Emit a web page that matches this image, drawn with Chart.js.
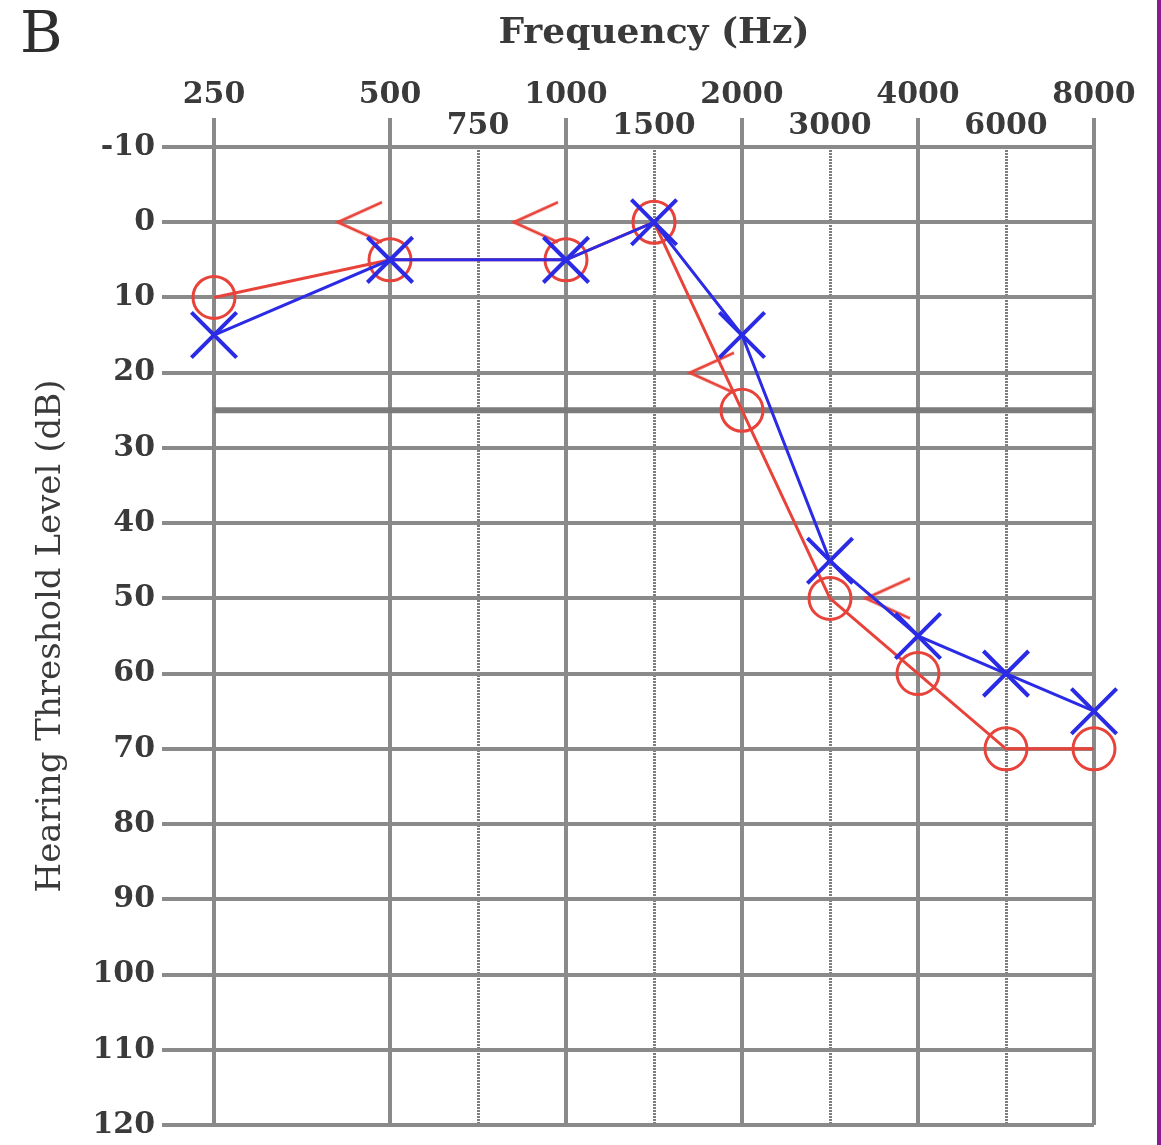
<!DOCTYPE html>
<html>
<head>
<meta charset="utf-8">
<title>Audiograma B</title>
<script src="https://cdn.jsdelivr.net/npm/chart.js@4.4.0/dist/chart.umd.min.js"></script>
<style>
    body { margin: 0; background: #ffffff; }
    #contenedor { position: relative; width: 1161px; height: 1145px; overflow: hidden; }
    #audiograma { display: block; }
    #letra { position: absolute; left: 20px; top: 3px; font-family: 'DejaVu Serif'; font-size: 58px; line-height: 58px; color: #2e2e2e; }
    #borde { position: absolute; right: 0; top: 0; width: 4px; height: 1145px; background: #8b1c8e; }
</style>
</head>
<body>
<div id="contenedor">
    <canvas id="audiograma" width="1161" height="1145"></canvas>
    <div id="letra">B</div>
    <div id="borde"></div>
</div>
<script>
//DATOS DEL AUDIOGRAMA.
const frecuencias = [250, 500, 750, 1000, 1500, 2000, 3000, 4000, 6000, 8000];
const posiciones = [0, 1, 1.5, 2, 2.5, 3, 3.5, 4, 4.5, 5];   //Octavas a igual distancia, medias octavas al centro.
const oidoDerecho = [10, 5, null, 5, 0, 25, 50, 60, 70, 70];     //Círculos rojos.
const oidoIzquierdo = [15, 5, null, 5, 0, 15, 45, 55, 60, 65];   //Cruces azules.
const viaOsea = [null, 0, null, 0, null, 20, null, 50, null, null]; //Marcas "<" rojas.
const umbralNormal = 25;
const nivelMin = -10;
const nivelMax = 120;

const ROJO = '#e8433a';
const AZUL = '#2b2be6';
const GRIS = '#8a8a8a';
const TEXTO = '#3a3a3a';


//FUNCIÓN QUE INDICA SI LA FRECUENCIA ES UNA OCTAVA (LÍNEA CONTINUA) O MEDIA OCTAVA (LÍNEA PUNTEADA).
function esOctava(i) {
    if (i === undefined) return true;
    return Number.isInteger(posiciones[i]);
}


//FUNCIÓN PARA ARMAR LOS PUNTOS {x, y} DE UNA SERIE.
function armarSerie(valores) {
    const puntos = [];
    valores.forEach((v, i) => {
        if (v !== null) puntos.push({x: posiciones[i], y: v});
    });
    return puntos;
}


//FUNCIÓN PARA DIBUJAR EL SÍMBOLO "<" DE VÍA ÓSEA (DESPLAZADO A LA IZQUIERDA DE LA LÍNEA).
function simboloViaOsea() {
    const c = document.createElement('canvas');
    c.width = 112;
    c.height = 48;
    const g = c.getContext('2d');
    g.strokeStyle = ROJO;
    g.lineWidth = 3;
    g.beginPath();
    g.moveTo(48, 4);
    g.lineTo(4, 24);
    g.lineTo(48, 44);
    g.stroke();
    return c;
}


//SE DEFINE Y CONFIGURA EL GRÁFICO.
const fuenteTicks = {family: "'DejaVu Serif'", size: 30, weight: 'bold', lineHeight: 1.03};

const config = {
    type: 'line',
    data: {
        datasets: [
            {
                label: 'Left ear',
                data: armarSerie(oidoIzquierdo),
                borderColor: AZUL,
                borderWidth: 3,
                pointStyle: 'crossRot',
                pointRadius: 32,
                pointBorderWidth: 4,
                pointBorderColor: AZUL,
                pointBackgroundColor: AZUL,
                clip: false,
                order: 0
            },
            {
                label: 'Right ear',
                data: armarSerie(oidoDerecho),
                borderColor: ROJO,
                borderWidth: 3,
                pointStyle: 'circle',
                pointRadius: 21,
                pointBorderWidth: 3,
                pointBorderColor: ROJO,
                pointBackgroundColor: 'rgba(0,0,0,0)',
                clip: false,
                order: 1
            },
            {
                label: 'Bone conduction',
                data: armarSerie(viaOsea),
                showLine: false,
                pointStyle: simboloViaOsea(),
                pointRadius: 24,
                clip: false,
                order: 2
            },
            {
                label: 'Normal limit',
                data: [{x: posiciones[0], y: umbralNormal}, {x: posiciones[posiciones.length - 1], y: umbralNormal}],
                borderColor: '#7b7b7b',
                borderWidth: 6,
                pointRadius: 0,
                order: 3
            }
        ]
    },
    options: {
        responsive: false,
        animation: false,
        devicePixelRatio: 1,
        events: [],
        layout: {
            autoPadding: false,
            padding: {top: 0, left: 0, right: 67, bottom: 20}
        },
        elements: {
            line: {tension: 0}
        },
        plugins: {
            legend: {display: false},
            tooltip: {enabled: false}
        },
        scales: {
            x: {
                type: 'linear',
                position: 'top',
                min: posiciones[0],
                max: posiciones[posiciones.length - 1],
                afterBuildTicks: s => { s.ticks = posiciones.map(v => ({value: v})); },
                afterFit: s => { s.height = 147; },
                ticks: {
                    autoSkip: false,
                    maxRotation: 0,
                    padding: -24,
                    color: TEXTO,
                    font: fuenteTicks,
                    callback: (v, i) => esOctava(i) ? [String(frecuencias[i]), ''] : String(frecuencias[i])
                },
                grid: {
                    color: c => esOctava(c.index) ? GRIS : '#7e7e7e',
                    lineWidth: c => esOctava(c.index) ? 4 : 3,
                    tickLength: 29,
                    tickWidth: 4,
                    tickColor: c => esOctava(c.index) ? GRIS : 'rgba(0,0,0,0)'
                },
                border: {
                    display: false,
                    dash: c => esOctava(c.index) ? [] : [2, 1]
                },
                title: {
                    display: true,
                    text: 'Frequency (Hz)',
                    color: TEXTO,
                    font: {family: "'DejaVu Serif'", size: 36, weight: 'bold'},
                    padding: {top: 12, bottom: 0}
                }
            },
            y: {
                type: 'linear',
                reverse: true,
                min: nivelMin,
                max: nivelMax,
                afterFit: s => {
                    s.width = 214;
                    s.paddingTop = 0;
                    s.paddingBottom = 0;
                },
                ticks: {
                    stepSize: 10,
                    padding: 7,
                    color: TEXTO,
                    font: fuenteTicks
                },
                grid: {
                    color: GRIS,
                    lineWidth: 4,
                    tickLength: 52,
                    tickWidth: 4,
                    tickColor: GRIS
                },
                border: {display: false},
                title: {
                    display: true,
                    text: 'Hearing Threshold Level (dB)',
                    color: TEXTO,
                    font: {family: "'DejaVu Serif'", size: 34},
                    padding: {top: 31, bottom: 0}
                }
            }
        }
    }
};

const grafico = new Chart(document.getElementById('audiograma'), config);
</script>
</body>
</html>
